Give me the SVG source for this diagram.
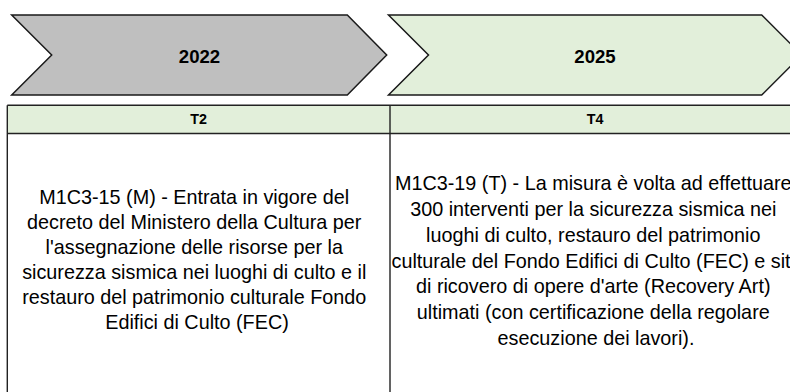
<svg xmlns="http://www.w3.org/2000/svg" width="790" height="392" viewBox="0 0 790 392">
<style>
.chev{stroke:#1a1a1a;stroke-width:1.5;stroke-linejoin:miter}
.grey{fill:#bfbfbf}
.green{fill:#e2efda}
.yr{font-family:"Liberation Sans",Arial,sans-serif;font-weight:bold;font-size:18.6px;fill:#000;text-anchor:middle}
.hd{font-family:"Liberation Sans",Arial,sans-serif;font-weight:bold;font-size:14.3px;fill:#000;text-anchor:middle}
.bd{font-family:"Liberation Sans",Arial,sans-serif;font-size:19.8px;fill:#000;text-anchor:middle}
.grid{stroke:#222;stroke-width:1.4;fill:none}
</style>
<rect width="790" height="392" fill="#fff"/>
<g id="year-2022">
<polygon class="chev grey" points="11.7,15 347.3,15 386.7,55 347.3,95 11.7,95 51.7,55"/>
<text class="yr" x="199.5" y="62.7">2022</text>
</g>
<g id="year-2025">
<polygon class="chev green" points="388.5,15 761.7,15 801.7,55 761.7,95 388.5,95 428.5,55"/>
<text class="yr" x="595" y="62.7">2025</text>
</g>
<g id="header-T2">
<rect x="7.3" y="105.3" width="382.7" height="28.2" class="green"/>
<text class="hd" x="198.7" y="123.5">T2</text>
</g>
<g id="header-T4">
<rect x="390" y="105.3" width="410" height="28.2" class="green"/>
<text class="hd" x="595" y="123.5">T4</text>
</g>
<g id="cell-T2">
<text class="bd" x="197">
<tspan x="197" y="204">M1C3-15 (M) - Entrata in vigore del</tspan>
<tspan x="197" y="229">decreto del Ministero della Cultura per</tspan>
<tspan x="197" y="254">l'assegnazione delle risorse per la</tspan>
<tspan x="197" y="279">sicurezza sismica nei luoghi di culto e il</tspan>
<tspan x="197" y="304">restauro del patrimonio culturale Fondo</tspan>
<tspan x="197" y="329">Edifici di Culto (FEC)</tspan>
</text>
</g>
<g id="cell-T4">
<text class="bd" x="596">
<tspan x="596" y="190">M1C3-19 (T) - La misura è volta ad effettuare</tspan>
<tspan x="596" y="216">300 interventi per la sicurezza sismica nei</tspan>
<tspan x="596" y="242">luoghi di culto, restauro del patrimonio</tspan>
<tspan x="596" y="268">culturale del Fondo Edifici di Culto (FEC) e siti</tspan>
<tspan x="596" y="293">di ricovero di opere d'arte (Recovery Art)</tspan>
<tspan x="596" y="319">ultimati (con certificazione della regolare</tspan>
<tspan x="596" y="345">esecuzione dei lavori).</tspan>
</text>
</g>
<g id="connectors">
<path class="grid" d="M7.3,105.3 H800 M7.3,133.5 H800 M7.3,105.3 V400 M390,105.3 V400"/>
</g>
</svg>
